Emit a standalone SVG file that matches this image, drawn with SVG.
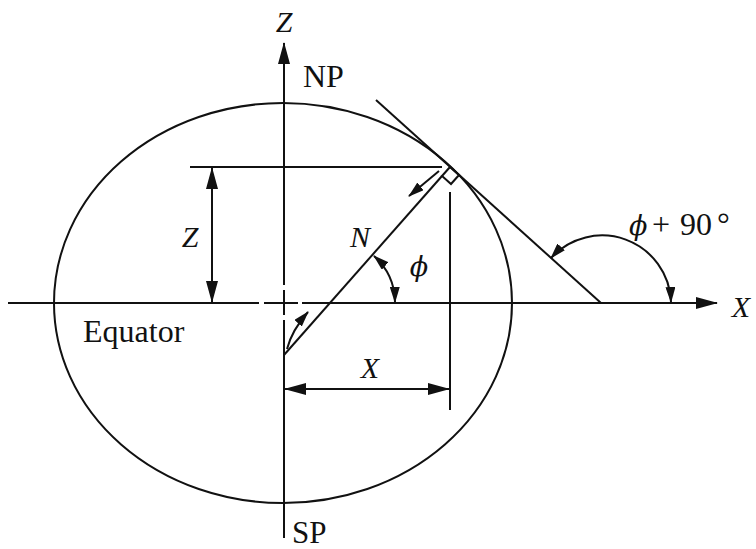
<svg xmlns="http://www.w3.org/2000/svg" width="756" height="549" viewBox="0 0 756 549">
<style>
  .ln { fill: none; stroke: #111; stroke-width: 2; }
  .ar { marker-end: url(#ah); }
  .ar2 { marker-start: url(#ah); marker-end: url(#ah); }
  .t { font-family: "Liberation Serif", "Times New Roman", "DejaVu Serif", serif; fill: #111; }
  .it { font-style: italic; }
  .phi { font-family: "DejaVu Serif", "Liberation Serif", serif; font-style: italic; }
  .gap { stroke: #fff; stroke-width: 4; }
</style>
<defs>
  <marker id="ah" markerUnits="userSpaceOnUse" markerWidth="22" markerHeight="12" refX="21" refY="6" orient="auto-start-reverse" viewBox="0 0 22 12">
    <path d="M0,0 L22,6 L0,12 Z" fill="#111"/>
  </marker>
  <marker id="ahs" markerUnits="userSpaceOnUse" markerWidth="16" markerHeight="10" refX="15" refY="5" orient="auto-start-reverse" viewBox="0 0 16 10">
    <path d="M0,0 L16,5 L0,10 Z" fill="#111"/>
  </marker>
</defs>
<rect width="756" height="549" fill="#fff"/>

<g id="ellipse">
  <ellipse class="ln" cx="283" cy="303" rx="229" ry="200"/>
</g>

<g id="connectors">
  <!-- axes -->
  <line id="x-axis" class="ln ar" x1="8" y1="303" x2="717" y2="303"/>
  <line id="z-axis" class="ln ar" x1="284" y1="538" x2="284" y2="43"/>
  <!-- gaps at origin -->
  <line class="gap" x1="259" y1="303" x2="264" y2="303"/>
  <line class="gap" x1="298" y1="303" x2="302" y2="303"/>
  <line class="gap" x1="284" y1="285" x2="284" y2="290"/>
  <line class="gap" x1="284" y1="315" x2="284" y2="320"/>
  <!-- tangent -->
  <line id="tangent" class="ln" x1="376" y1="100" x2="601" y2="303"/>
  <!-- normal -->
  <line id="normal" class="ln" x1="442" y1="176" x2="284" y2="355"/>
  <!-- right angle box -->
  <path class="ln" d="M442,176 L450,167 L459,175 L451,184 Z"/>
  <!-- extension lines -->
  <line class="ln" x1="190" y1="167" x2="442" y2="167"/>
  <line class="ln" x1="450" y1="192" x2="450" y2="410"/>
  <!-- Z dimension -->
  <line class="ln ar2" x1="212" y1="168" x2="212" y2="302"/>
  <!-- X dimension -->
  <line class="ln ar2" x1="285" y1="389" x2="449" y2="389"/>
  <!-- N arrows -->
  <line class="ln" x1="439" y1="171" x2="409" y2="196" marker-end="url(#ahs)"/>
  <path class="ln" d="M287,349 Q292,330 308,312" marker-end="url(#ahs)"/>
  <!-- phi arc -->
  <path class="ln" d="M374,256 A63,63 0 0 1 395,302" marker-start="url(#ahs)" marker-end="url(#ahs)"/>
  <!-- phi+90 arc -->
  <path class="ln" d="M551,258 A69,69 0 0 1 671,302" marker-start="url(#ahs)" marker-end="url(#ahs)"/>
</g>

<g id="labels">
  <text class="t it" x="284" y="32" font-size="30" text-anchor="middle">Z</text>
  <text class="t" x="303" y="87" font-size="32">NP</text>
  <text class="t it" x="190" y="247" font-size="30" text-anchor="middle">Z</text>
  <text class="t it" x="360" y="247" font-size="30" text-anchor="middle">N</text>
  <text class="t phi" x="419" y="276" font-size="27" text-anchor="middle">ϕ</text>
  <text class="t it" x="370" y="378" font-size="30" text-anchor="middle">X</text>
  <text class="t it" x="741" y="317" font-size="30" text-anchor="middle">X</text>
  <text class="t" x="83" y="342" font-size="32">Equator</text>
  <text class="t" x="292" y="543" font-size="31">SP</text>
  <text class="t" y="235" font-size="32"><tspan class="phi" x="629" font-size="27">ϕ</tspan><tspan x="652">+</tspan><tspan x="680">90</tspan><tspan x="717">°</tspan></text>
</g>
</svg>
